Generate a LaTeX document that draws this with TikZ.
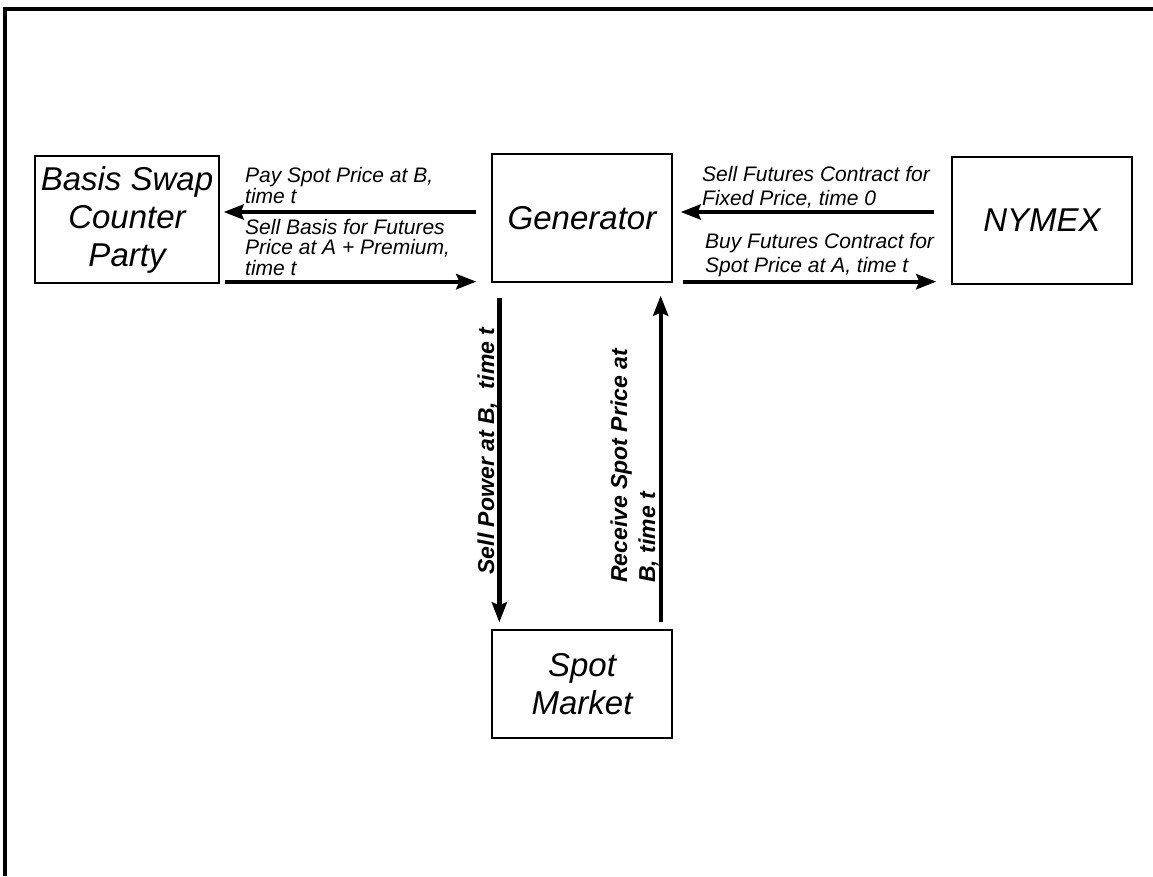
\documentclass[tikz,border=0pt]{standalone}
\usepackage{fontspec}
\setmainfont{Liberation Sans}
\usetikzlibrary{arrows.meta}
\begin{document}
\begin{tikzpicture} [x=1pt, y=-1pt,
        box/.style = {draw=black, line width=1.3pt, inner sep=0pt, align=center,
                      font=\itshape\fontsize{33}{38}\selectfont},
        flow/.style = {line width=4.3pt, -{Stealth[length=20pt, width=15pt, inset=3pt]}},
        lbl/.style = {inner sep=0pt, align=left, anchor=base west, font=\itshape\fontsize{21}{20.5}\selectfont},
        rlbl/.style = {lbl, font=\itshape\fontsize{21}{23.5}\selectfont},
        vlbl/.style = {inner sep=0pt, align=left, rotate=90,
                       font=\bfseries\itshape\fontsize{23}{28}\selectfont}]

            \useasboundingbox (0,0) rectangle (1153,876);
            \draw[line width=4pt] (4.5,876) -- (4.5,9) -- (1153,9);

            \node[box, minimum width=184pt, minimum height=127pt] (Basis) at (127, 219.5) {Basis Swap\\Counter\\Party};
            \node[box, minimum width=180pt, minimum height=128pt] (Gen)   at (582, 218)   {Generator};
            \node[box, minimum width=180pt, minimum height=127pt] (NYMEX) at (1042, 220.5) {NYMEX};
            \node[box, minimum width=180pt, minimum height=108pt] (Spot)  at (582, 684)   {Spot\\Market};

            \draw[flow, shorten <=15pt, shorten >=4pt] ([yshift=6pt]Gen.west) -- ([yshift=6pt]Gen.west -| Basis.east);
            \draw[flow, shorten <=5pt, shorten >=15pt] ([yshift=2pt]Basis.south east) -- ([yshift=2pt]Basis.south east -| Gen.west);
            \draw[flow, shorten <=17pt, shorten >=8pt] ([yshift=6pt]Gen.east -| NYMEX.west) -- ([yshift=6pt]Gen.east);
            \draw[flow, shorten <=10pt, shorten >=15pt] ([yshift=1pt]Gen.south east) -- ([yshift=1pt]Gen.south east -| NYMEX.west);
            \draw[flow, shorten <=15pt, shorten >=7pt] ([xshift=8pt]Gen.south west) -- ([xshift=8pt]Gen.south west |- Spot.north);
            \draw[flow, shorten <=7pt, shorten >=13pt] ([xshift=-12pt]Spot.north east) -- ([xshift=-12pt]Spot.north east |- Gen.south);

            % base anchor sits on the last line
            \node[lbl]  (PaySpot)   at (245, 203) {Pay Spot Price at B,\\time t};
            \node[lbl]  (SellBasis) at (245, 275) {Sell Basis for Futures\\Price at A + Premium,\\time t};
            \node[rlbl] (SellFut)   at (702, 205) {Sell Futures Contract for\\Fixed Price, time 0};
            \node[rlbl] (BuyFut)    at (705, 272) {Buy Futures Contract for\\Spot Price at A, time t};

            \node[vlbl, anchor=base] (SellPower) at (494, 451) {Sell Power at B,\ \ time t};
            \node[vlbl, anchor=base west] (Receive) at (655, 583) {Receive Spot Price at\\B, time t};
        \end{tikzpicture}
\end{document}
